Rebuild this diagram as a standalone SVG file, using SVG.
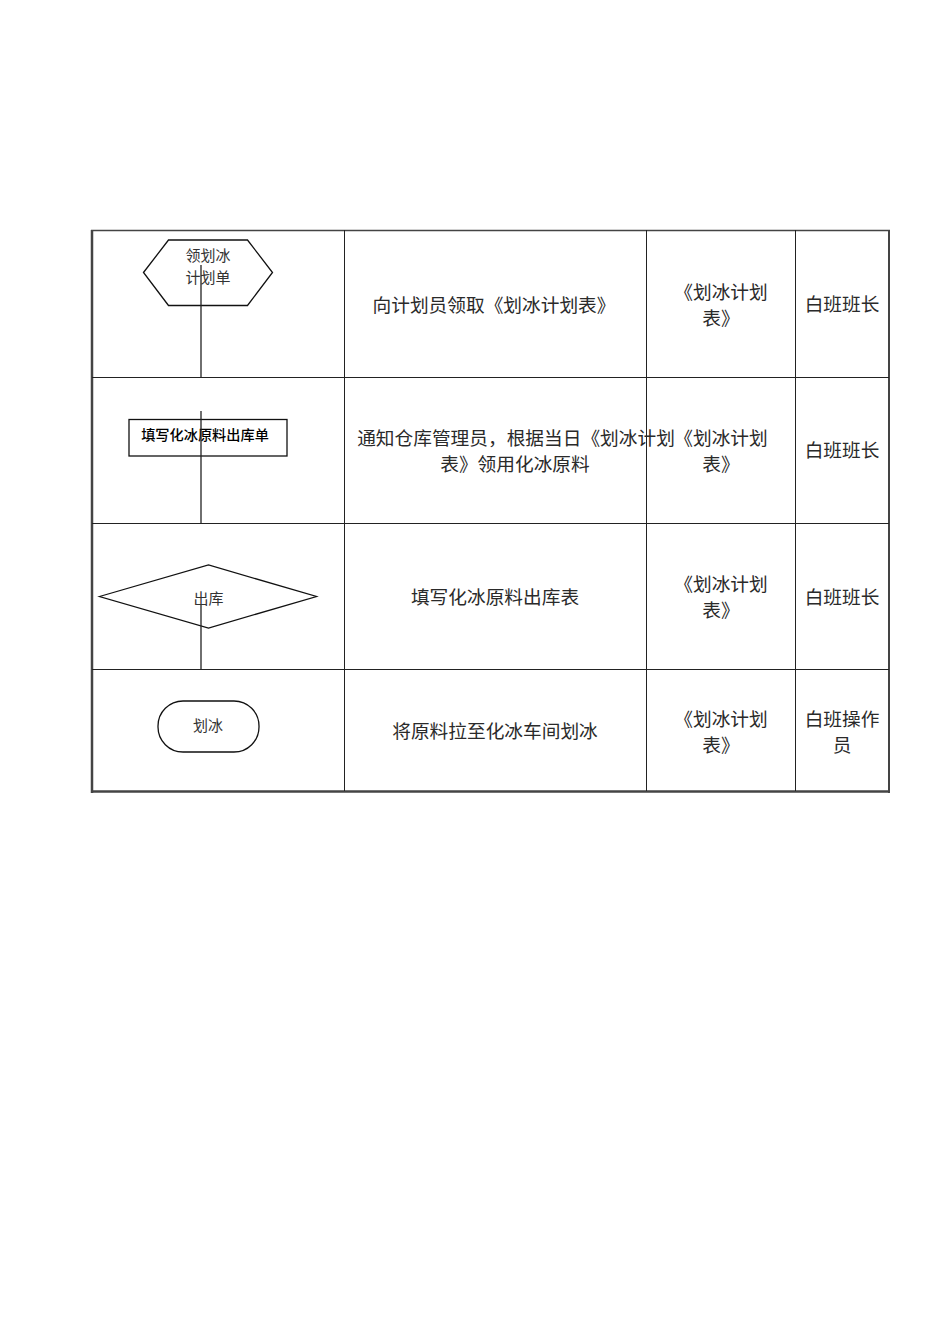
<svg xmlns="http://www.w3.org/2000/svg" width="950" height="1344" viewBox="0 0 950 1344">
<style>
.grid{stroke:#222;stroke-width:1;fill:none}
.border{stroke:#444;fill:none}
.shape{stroke:#111;stroke-width:1.3;fill:none}
.conn{stroke:#222;stroke-width:1.3;fill:none}
.t{font-family:"Noto Sans CJK SC","Liberation Sans",sans-serif;font-size:18.7px;fill:#2a2a2a;text-anchor:middle}
.s{font-family:"Noto Sans CJK SC","Liberation Sans",sans-serif;font-size:15px;fill:#333;text-anchor:middle}
.b{font-family:"Noto Sans CJK SC","Liberation Sans",sans-serif;font-size:14.2px;fill:#000;font-weight:500;text-anchor:middle}
</style>
<rect width="950" height="1344" fill="#fff"/>
<g id="table">
<line class="border" x1="91" y1="230.5" x2="890" y2="230.5" stroke-width="1.5"/>
<line class="border" x1="92" y1="230" x2="92" y2="793" stroke-width="2.5"/>
<line class="border" x1="889" y1="230" x2="889" y2="793" stroke-width="2"/>
<line class="border" x1="91" y1="791.5" x2="890" y2="791.5" stroke-width="2.5"/>
<line class="grid" x1="92" y1="377.5" x2="889" y2="377.5"/>
<line class="grid" x1="92" y1="523.5" x2="889" y2="523.5"/>
<line class="grid" x1="92" y1="669.5" x2="889" y2="669.5"/>
<line class="grid" x1="344.5" y1="230" x2="344.5" y2="791"/>
<line class="grid" x1="646.5" y1="230" x2="646.5" y2="791"/>
<line class="grid" x1="795.5" y1="230" x2="795.5" y2="791"/>
</g>
<g id="node1">
<polygon class="shape" points="143.5,272.5 168.5,240 247.5,240 272.5,272.5 247.5,305.5 168.5,305.5"/>
<text class="s" x="208" y="261">领划冰</text>
<text class="s" x="208" y="283">计划单</text>
</g>
<g id="node2">
<rect class="shape" x="129" y="419.5" width="158" height="36.5"/>
<text class="b" x="205" y="440">填写化冰原料出库单</text>
</g>
<g id="node3">
<polygon class="shape" points="99.5,596.5 208.5,565 316.5,596.5 208.5,628"/>
<text class="s" x="208.5" y="604">出库</text>
</g>
<g id="node4">
<rect class="shape" x="158" y="701" width="101" height="51" rx="25" ry="25"/>
<text class="s" x="208" y="731">划冰</text>
</g>
<g id="connectors">
<line class="conn" x1="201" y1="265" x2="201" y2="377"/>
<line class="conn" x1="201" y1="411" x2="201" y2="523"/>
<line class="conn" x1="201" y1="605" x2="201" y2="669"/>
</g>
<g id="row1">
<text class="t" x="494" y="312">向计划员领取《划冰计划表》</text>
<text class="t" x="721" y="299">《划冰计划</text>
<text class="t" x="721" y="325">表》</text>
<text class="t" x="842" y="311">白班班长</text>
</g>
<g id="row2">
<text class="t" x="516" y="445">通知仓库管理员，根据当日《划冰计划</text>
<text class="t" x="515" y="471">表》领用化冰原料</text>
<text class="t" x="721" y="445">《划冰计划</text>
<text class="t" x="721" y="471">表》</text>
<text class="t" x="842" y="457">白班班长</text>
</g>
<g id="row3">
<text class="t" x="495" y="604">填写化冰原料出库表</text>
<text class="t" x="721" y="591">《划冰计划</text>
<text class="t" x="721" y="617">表》</text>
<text class="t" x="842" y="604">白班班长</text>
</g>
<g id="row4">
<text class="t" x="495" y="738">将原料拉至化冰车间划冰</text>
<text class="t" x="721" y="726">《划冰计划</text>
<text class="t" x="721" y="752">表》</text>
<text class="t" x="842" y="726">白班操作</text>
<text class="t" x="842" y="752">员</text>
</g>
</svg>
